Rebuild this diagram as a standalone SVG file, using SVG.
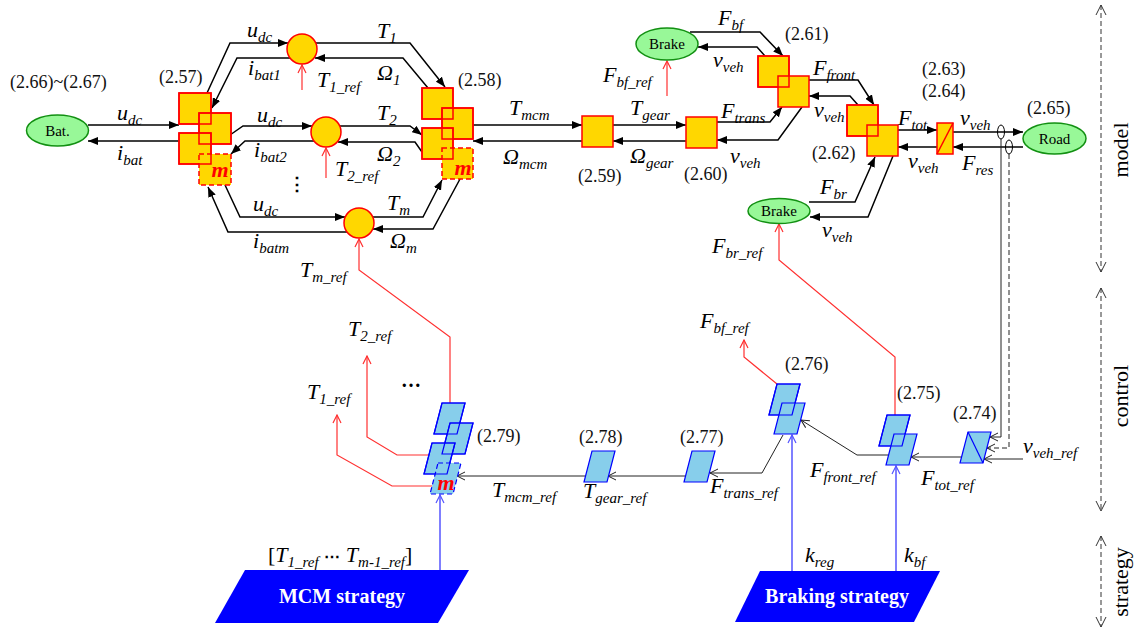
<svg xmlns="http://www.w3.org/2000/svg" width="1145" height="633" viewBox="0 0 1145 633" font-family="'Liberation Serif', 'Times New Roman', serif">
<style>
.blk{fill:#FFD700;stroke:#FF0000;stroke-width:1.5}
.blko{fill:none;stroke:#FF0000;stroke-width:1.5}
.dsh{stroke-dasharray:5,3}
.cb{fill:#87CEEB;stroke:#0000FF;stroke-width:1.2}
.cbo{fill:none;stroke:#0000FF;stroke-width:1.2}
.ell{fill:#98F898;stroke:#129012;stroke-width:1.5}
.ln{fill:none;stroke:#000;stroke-width:1.5;marker-end:url(#af)}
.cl{fill:none;stroke:#222;stroke-width:1;marker-end:url(#ao)}
.rl{fill:none;stroke:#FF3030;stroke-width:1.2;marker-end:url(#ar)}
.bl{fill:none;stroke:#5555FF;stroke-width:1.5;marker-end:url(#ab)}
.side{fill:none;stroke:#333;stroke-width:1;stroke-dasharray:5,3;marker-start:url(#as);marker-end:url(#as)}
text{font-family:'Liberation Serif','Times New Roman',serif}
.v{font-style:italic;font-size:22px;fill:#000}
.s{font-size:15px}
.n{font-size:18px;fill:#111}
.el{font-size:15px;text-anchor:middle;fill:#000}
.m{font-style:italic;font-weight:bold;font-size:22px;fill:#FF0000;text-anchor:middle}
.st{font-weight:bold;font-size:20px;fill:#FFFFFF;text-anchor:middle}
.lay{font-size:22px;fill:#000;text-anchor:middle}
</style>
<defs>
<marker id="af" markerUnits="userSpaceOnUse" markerWidth="10" markerHeight="8" refX="10" refY="4" orient="auto"><path d="M0,0 L10,4 L0,8 z" fill="#000"/></marker>
<marker id="ao" markerUnits="userSpaceOnUse" markerWidth="10" markerHeight="10" refX="9" refY="5" orient="auto"><path d="M1,1 L9,5 L1,9" fill="none" stroke="#222" stroke-width="1"/></marker>
<marker id="ar" markerUnits="userSpaceOnUse" markerWidth="10" markerHeight="10" refX="9" refY="5" orient="auto"><path d="M1,1 L9,5 L1,9" fill="none" stroke="#FF3030" stroke-width="1.2"/></marker>
<marker id="ab" markerUnits="userSpaceOnUse" markerWidth="10" markerHeight="10" refX="9" refY="5" orient="auto"><path d="M1,1 L9,5 L1,9" fill="none" stroke="#5555FF" stroke-width="1.2"/></marker>
<marker id="as" markerUnits="userSpaceOnUse" markerWidth="12" markerHeight="12" refX="11" refY="6" orient="auto-start-reverse"><path d="M1,1 L11,6 L1,11" fill="none" stroke="#333" stroke-width="1"/></marker>
</defs>
<rect width="1145" height="633" fill="#FFFFFF"/>

<g id="connectors">
<path class="ln" d="M88,125 H179"/>
<path class="ln" d="M179,141 H88"/>
<path class="ln" d="M207,93 L230,43 H288"/>
<path class="ln" d="M290,58 H237 L212,108"/>
<path class="ln" d="M230,135 L243,126 H312"/>
<path class="ln" d="M314,141 H245 L231,154"/>
<path class="ln" d="M225,185 L240,217 H345"/>
<path class="ln" d="M347,232 H228 L208,187"/>
<path class="ln" d="M316,43 H410 L445,87"/>
<path class="ln" d="M428,88 L403,58 H315"/>
<path class="ln" d="M340,126 H410 L422,135"/>
<path class="ln" d="M422,152 L415,142 H338"/>
<path class="ln" d="M373,217 H423 L442,180"/>
<path class="ln" d="M460,179 L433,229 H373"/>
<path class="ln" d="M473,125 H582"/>
<path class="ln" d="M582,141 H473"/>
<path class="ln" d="M613,125 H686"/>
<path class="ln" d="M686,141 H613"/>
<path class="ln" d="M717,122 H770 L782,107"/>
<path class="ln" d="M802,107 L778,140 H717"/>
<path class="ln" d="M690,32 H760 L783,56"/>
<path class="ln" d="M765,56 L757,47 H698"/>
<path class="ln" d="M809,80 H858 L874,105"/>
<path class="ln" d="M858,105 L850,96 H809"/>
<path class="ln" d="M898,130 H937"/>
<path class="ln" d="M937,147 H898"/>
<path class="ln" d="M953,132 H1023"/>
<path class="ln" d="M1023,147 H953"/>
<path class="ln" d="M809,202 H855 L875,157"/>
<path class="ln" d="M893,156 L868,217 H810"/>
<ellipse cx="1001" cy="132" rx="3.5" ry="7" fill="none" stroke="#000" stroke-width="1"/>
<ellipse cx="1009" cy="147" rx="3.5" ry="7" fill="none" stroke="#000" stroke-width="1"/>
<path class="cl" d="M1001,139 V437 H990"/>
<path class="cl" d="M1009,154 V448 H987" stroke-dasharray="5,3"/>
<path class="cl" d="M1023,459 H984"/>
<path class="cl" d="M961,457 H911"/>
<path class="cl" d="M888,455 H857 L801,420"/>
<path class="cl" d="M783,435 L762,473 H710"/>
<path class="cl" d="M685,476 H608"/>
<path class="cl" d="M585,476 H457"/>
<path class="rl" d="M302,90 V65"/>
<path class="rl" d="M326,178 V148"/>
<path class="rl" d="M667,96 V61"/>
<path class="rl" d="M450,403 V337 L359,270 V239"/>
<path class="rl" d="M429,455 H397 L367,437 V356"/>
<path class="rl" d="M432,486 H392 L337,455 V415"/>
<path class="rl" d="M777,384 L744,357 V340"/>
<path class="rl" d="M895,415 V357 L779,260 V224"/>
<path class="bl" d="M440,570 V495"/>
<path class="bl" d="M792,571 V435"/>
<path class="bl" d="M896,571 V466"/>
<path class="side" d="M1101,5 V272"/>
<path class="side" d="M1101,288 V511"/>
<path class="side" d="M1101,536 V627"/>
</g>

<g id="bat">
<ellipse class="ell" cx="57.5" cy="130.5" rx="31" ry="15.5"/>
<text class="el" x="57.5" y="135.5">Bat.</text>
<text class="n" x="10" y="88">(2.66)~(2.67)</text>
</g>

<g id="b257">
<rect class="blk" x="179" y="93" width="32" height="31"/>
<rect class="blk" x="199" y="113" width="32" height="31"/>
<rect class="blk" x="179" y="133" width="32" height="31"/>
<rect class="blk dsh" x="199" y="154" width="32" height="31"/>
<rect class="blko" x="179" y="93" width="32" height="31"/>
<rect class="blko" x="199" y="113" width="32" height="31"/>
<rect class="blko" x="179" y="133" width="32" height="31"/>
<text class="m" x="220" y="177">m</text>
<text class="n" x="159" y="83">(2.57)</text>
</g>

<g id="c1"><circle cx="302" cy="49" r="15" class="blk"/></g>
<g id="c2"><circle cx="326" cy="132" r="15" class="blk"/></g>
<g id="cm"><circle cx="359" cy="223" r="15" class="blk"/></g>

<g id="b258">
<rect class="blk" x="422" y="88" width="31" height="31"/>
<rect class="blk" x="442" y="108" width="31" height="31"/>
<rect class="blk" x="422" y="128" width="31" height="31"/>
<rect class="blk dsh" x="442" y="148" width="31" height="31"/>
<rect class="blko" x="422" y="88" width="31" height="31"/>
<rect class="blko" x="442" y="108" width="31" height="31"/>
<rect class="blko" x="422" y="128" width="31" height="31"/>
<text class="m" x="463" y="175">m</text>
<text class="n" x="458" y="86">(2.58)</text>
</g>

<g id="b259">
<rect class="blk" x="582" y="116" width="31" height="31"/>
<text class="n" x="578" y="182">(2.59)</text>
</g>
<g id="b260">
<rect class="blk" x="686" y="117" width="31" height="31"/>
<text class="n" x="684" y="180">(2.60)</text>
</g>
<g id="brake1">
<ellipse class="ell" cx="667" cy="44" rx="31" ry="16"/>
<text class="el" x="667" y="49">Brake</text>
</g>
<g id="b261">
<rect class="blk" x="758" y="56" width="31" height="31"/>
<rect class="blk" x="778" y="76" width="31" height="31"/>
<rect class="blko" x="758" y="56" width="31" height="31"/>
<text class="n" x="785" y="40">(2.61)</text>
</g>
<g id="b262">
<rect class="blk" x="847" y="105" width="31" height="31"/>
<rect class="blk" x="867" y="125" width="31" height="31"/>
<rect class="blko" x="847" y="105" width="31" height="31"/>
<text class="n" x="812" y="159">(2.62)</text>
</g>
<g id="brake2">
<ellipse class="ell" cx="779" cy="211" rx="31" ry="12.5"/>
<text class="el" x="779" y="216">Brake</text>
</g>
<g id="b263">
<rect class="blk" x="937" y="123" width="16" height="31"/>
<line x1="937" y1="154" x2="953" y2="123" stroke="#FF0000" stroke-width="1.5"/>
<text class="n" x="922" y="75">(2.63)</text>
<text class="n" x="922" y="97">(2.64)</text>
</g>
<g id="road">
<ellipse class="ell" cx="1054.5" cy="138.5" rx="31.5" ry="15.5"/>
<text class="el" x="1054.5" y="143.5">Road</text>
<text class="n" x="1027" y="114">(2.65)</text>
</g>

<g id="c274">
<path class="cb" d="M968,432 H991 L983,463 H960 Z"/>
<line x1="968" y1="432" x2="983" y2="463" stroke="#0000FF" stroke-width="1.2"/>
<text class="n" x="953" y="419">(2.74)</text>
</g>
<g id="c275">
<path class="cb" d="M887,415 H910 L902,446 H879 Z"/>
<path class="cb" d="M894,434 H917 L909,465 H886 Z"/>
<path class="cbo" d="M887,415 H910 L902,446 H879 Z"/>
<text class="n" x="897" y="399">(2.75)</text>
</g>
<g id="c276">
<path class="cb" d="M777,384 H800 L792,415 H769 Z"/>
<path class="cb" d="M782,403 H805 L797,434 H774 Z"/>
<path class="cbo" d="M777,384 H800 L792,415 H769 Z"/>
<text class="n" x="785" y="370">(2.76)</text>
</g>
<g id="c277">
<path class="cb" d="M692,451 H715 L707,482 H684 Z"/>
<text class="n" x="680" y="443">(2.77)</text>
</g>
<g id="c278">
<path class="cb" d="M592,451 H615 L607,482 H584 Z"/>
<text class="n" x="579" y="443">(2.78)</text>
</g>
<g id="c279">
<path class="cb" d="M442,403 H465 L457,434 H434 Z"/>
<path class="cb" d="M450,423 H473 L465,454 H442 Z"/>
<path class="cb" d="M432,443 H455 L447,474 H424 Z"/>
<path class="cb dsh" d="M438,463 H461 L453,494 H430 Z"/>
<path class="cbo" d="M442,403 H465 L457,434 H434 Z"/>
<path class="cbo" d="M450,423 H473 L465,454 H442 Z"/>
<path class="cbo" d="M432,443 H455 L447,474 H424 Z"/>
<text class="m" x="446" y="490">m</text>
<text class="n" x="477" y="442">(2.79)</text>
</g>

<g id="mcm-strategy">
<path d="M245,570 H469 L438,623 H215 Z" fill="#0000FF"/>
<text class="st" x="342" y="603">MCM strategy</text>
</g>
<g id="braking-strategy">
<path d="M760,571 H940 L914,622 H735 Z" fill="#0000FF"/>
<text class="st" x="837" y="603">Braking strategy</text>
</g>

<g id="labels">
<text class="v" x="117" y="120">u<tspan class="s" dy="5">dc</tspan></text>
<text class="v" x="117" y="160">i<tspan class="s" dy="5">bat</tspan></text>
<text class="v" x="247" y="37">u<tspan class="s" dy="5">dc</tspan></text>
<text class="v" x="248" y="75">i<tspan class="s" dy="5">bat1</tspan></text>
<text class="v" x="257" y="122">u<tspan class="s" dy="5">dc</tspan></text>
<text class="v" x="254" y="157">i<tspan class="s" dy="5">bat2</tspan></text>
<text class="v" x="253" y="211">u<tspan class="s" dy="5">dc</tspan></text>
<text class="v" x="253" y="248">i<tspan class="s" dy="5">batm</tspan></text>
<text x="297" y="190" font-size="18" font-weight="bold" text-anchor="middle" style="font-family:'DejaVu Serif',serif">⋮</text>
<text class="v" x="377" y="38">T<tspan class="s" dy="5">1</tspan></text>
<text class="v" x="377" y="80">Ω<tspan class="s" dy="5">1</tspan></text>
<text class="v" x="317" y="87">T<tspan class="s" dy="5">1_ref</tspan></text>
<text class="v" x="377" y="120">T<tspan class="s" dy="5">2</tspan></text>
<text class="v" x="377" y="161">Ω<tspan class="s" dy="5">2</tspan></text>
<text class="v" x="335" y="176">T<tspan class="s" dy="5">2_ref</tspan></text>
<text class="v" x="387" y="210">T<tspan class="s" dy="5">m</tspan></text>
<text class="v" x="390" y="248">Ω<tspan class="s" dy="5">m</tspan></text>
<text class="v" x="300" y="277">T<tspan class="s" dy="5">m_ref</tspan></text>
<text class="v" x="509" y="115">T<tspan class="s" dy="5">mcm</tspan></text>
<text class="v" x="503" y="164">Ω<tspan class="s" dy="5">mcm</tspan></text>
<text class="v" x="630" y="115">T<tspan class="s" dy="5">gear</tspan></text>
<text class="v" x="630" y="163">Ω<tspan class="s" dy="5">gear</tspan></text>
<text class="v" x="721" y="118">F<tspan class="s" dy="5">trans</tspan></text>
<text class="v" x="730" y="163">v<tspan class="s" dy="5">veh</tspan></text>
<text class="v" x="718" y="25">F<tspan class="s" dy="5">bf</tspan></text>
<text class="v" x="713" y="67">v<tspan class="s" dy="5">veh</tspan></text>
<text class="v" x="603" y="82">F<tspan class="s" dy="5">bf_ref</tspan></text>
<text class="v" x="813" y="75">F<tspan class="s" dy="5">front</tspan></text>
<text class="v" x="814" y="117">v<tspan class="s" dy="5">veh</tspan></text>
<text class="v" x="820" y="194">F<tspan class="s" dy="5">br</tspan></text>
<text class="v" x="822" y="237">v<tspan class="s" dy="5">veh</tspan></text>
<text class="v" x="712" y="253">F<tspan class="s" dy="5">br_ref</tspan></text>
<text class="v" x="898" y="125">F<tspan class="s" dy="5">tot</tspan></text>
<text class="v" x="908" y="168">v<tspan class="s" dy="5">veh</tspan></text>
<text class="v" x="960" y="125">v<tspan class="s" dy="5">veh</tspan></text>
<text class="v" x="962" y="170">F<tspan class="s" dy="5">res</tspan></text>
<text class="v" x="348" y="336">T<tspan class="s" dy="5">2_ref</tspan></text>
<text class="v" x="307" y="399">T<tspan class="s" dy="5">1_ref</tspan></text>
<text x="411" y="387" font-size="20" font-weight="bold" text-anchor="middle">…</text>
<text class="v" x="492" y="497">T<tspan class="s" dy="5">mcm_ref</tspan></text>
<text class="v" x="583" y="498">T<tspan class="s" dy="5">gear_ref</tspan></text>
<text class="v" x="710" y="493">F<tspan class="s" dy="5">trans_ref</tspan></text>
<text class="v" x="810" y="477">F<tspan class="s" dy="5">front_ref</tspan></text>
<text class="v" x="921" y="485">F<tspan class="s" dy="5">tot_ref</tspan></text>
<text class="v" x="700" y="328">F<tspan class="s" dy="5">bf_ref</tspan></text>
<text class="v" x="1023" y="453">v<tspan class="s" dy="5">veh_ref</tspan></text>
<text class="v" x="268" y="562"><tspan font-style="normal">[</tspan>T<tspan class="s" dy="5">1_ref</tspan><tspan dy="-5" font-style="normal" font-weight="bold" font-size="16" style="font-family:'DejaVu Serif',serif"> ⋯ </tspan>T<tspan class="s" dy="5">m-1_ref</tspan><tspan dy="-5" font-style="normal">]</tspan></text>
<text class="v" x="805" y="562">k<tspan class="s" dy="5">reg</tspan></text>
<text class="v" x="904" y="562">k<tspan class="s" dy="5">bf</tspan></text>
</g>

<g id="layers">
<text class="lay" transform="translate(1128,150) rotate(-90)">model</text>
<text class="lay" transform="translate(1128,396) rotate(-90)">control</text>
<text class="lay" transform="translate(1128,582) rotate(-90)">strategy</text>
</g>
</svg>
